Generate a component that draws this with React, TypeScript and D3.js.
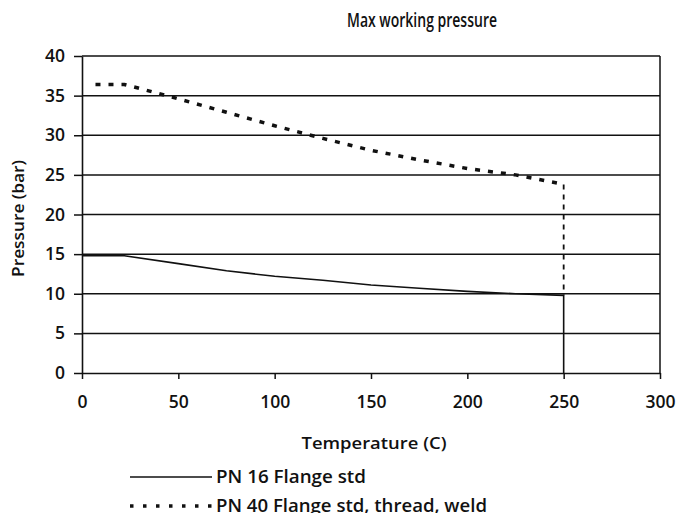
import React, { useEffect, useRef } from 'react';
import * as d3 from 'd3';

// PN 16 series (temperature C, pressure bar)
const pn16Temp = [0, 22, 50, 75, 100, 125, 150, 175, 200, 225, 250, 250];
const pn16Pressure = [14.8, 14.8, 13.8, 12.9, 12.2, 11.7, 11.1, 10.7, 10.3, 10.0, 9.8, 0];

// PN 40 series
const pn40Temp = [7, 22, 30, 50, 75, 100, 125, 150, 175, 200, 225, 250, 250];
const pn40Pressure = [36.4, 36.4, 35.9, 34.6, 32.9, 31.2, 29.6, 28.1, 26.9, 25.8, 25.0, 23.8, 9.8];

const xTicks = [0, 50, 100, 150, 200, 250, 300];
const yTicks = [0, 5, 10, 15, 20, 25, 30, 35, 40];

const seriesNames = ['PN 16 Flange std', 'PN 40 Flange std, thread, weld'];
const legendWidths = [150, 271];

const FONT = "'Open Sans', sans-serif";

const App: React.FC = () => {
  const svgRef = useRef<SVGSVGElement>(null);

  useEffect(() => {
    if (!svgRef.current) return;
    const svg = d3.select(svgRef.current);
    svg.selectAll('*').remove();

    const width = 698;
    const height = 521;
    const margin = { top: 56, right: 38, bottom: 148, left: 82 };
    const iw = width - margin.left - margin.right;
    const ih = height - margin.top - margin.bottom;

    svg.attr('viewBox', `0 0 ${width} ${height}`);

    const g = svg.append('g').attr('transform', `translate(${margin.left},${margin.top})`);

    const x = d3.scaleLinear().domain([0, 300]).range([0, iw]);
    const y = d3.scaleLinear().domain([0, 40]).range([ih, 0]);

    // Grid lines
    g.append('g')
      .selectAll('line')
      .data(yTicks.filter(t => t > 0))
      .enter()
      .append('line')
      .attr('x1', 0)
      .attr('x2', iw)
      .attr('y1', d => y(d))
      .attr('y2', d => y(d))
      .attr('stroke', '#111')
      .attr('stroke-width', 1.5);

    // Right border
    g.append('line')
      .attr('x1', iw).attr('x2', iw)
      .attr('y1', 0).attr('y2', ih)
      .attr('stroke', '#111').attr('stroke-width', 1.5);

    // Axes
    const xAxis = g.append('g')
      .attr('transform', `translate(0,${ih})`)
      .call(d3.axisBottom(x).tickValues(xTicks).tickSize(6).tickPadding(17).tickSizeOuter(0));
    const yAxis = g.append('g')
      .call(d3.axisLeft(y).tickValues(yTicks).tickSize(8).tickPadding(9).tickSizeOuter(0));

    [xAxis, yAxis].forEach(ax => {
      ax.select('.domain').attr('stroke', '#111').attr('stroke-width', 1.6);
      ax.selectAll('.tick line').attr('stroke', '#111').attr('stroke-width', 1.5);
      ax.selectAll('.tick text')
        .attr('fill', '#111')
        .style('font-family', FONT)
        .style('font-size', '17.5px')
        .style('font-weight', '600');
    });

    const line = d3.line<[number, number]>()
      .x(d => x(d[0]))
      .y(d => y(d[1]));

    const pn16 = pn16Temp.map((t, i) => [t, pn16Pressure[i]] as [number, number]);
    const pn40 = pn40Temp.map((t, i) => [t, pn40Pressure[i]] as [number, number]);

    // PN 16 solid
    g.append('path')
      .datum(pn16)
      .attr('fill', 'none')
      .attr('stroke', '#111')
      .attr('stroke-width', 1.6)
      .attr('d', line);

    // PN 40 dotted curve
    g.append('path')
      .datum(pn40.slice(0, -1))
      .attr('fill', 'none')
      .attr('stroke', '#111')
      .attr('stroke-width', 3.5)
      .attr('stroke-dasharray', '5,8')
      .attr('d', line);

    // PN 40 drop at end
    g.append('path')
      .datum(pn40.slice(-2))
      .attr('fill', 'none')
      .attr('stroke', '#111')
      .attr('stroke-width', 1.8)
      .attr('stroke-dasharray', '5,5')
      .attr('d', line);

    const label = (sel: d3.Selection<SVGTextElement, unknown, null, undefined>, size: number, len?: number) => {
      sel.style('font-family', FONT)
        .style('font-size', `${size}px`)
        .style('font-weight', '600')
        .attr('fill', '#111');
      if (len) sel.attr('textLength', len).attr('lengthAdjust', 'spacingAndGlyphs');
      return sel;
    };

    // Title
    label(svg.append('text')
      .attr('x', 422)
      .attr('y', 27)
      .attr('text-anchor', 'middle')
      .text('Max working pressure'), 19, 150);

    // Axis labels
    label(svg.append('text')
      .attr('x', 374)
      .attr('y', 449)
      .attr('text-anchor', 'middle')
      .text('Temperature (C)'), 17, 145);

    label(svg.append('text')
      .attr('transform', `translate(24,${margin.top + y(19.5)}) rotate(-90)`)
      .attr('text-anchor', 'middle')
      .text('Pressure (bar)'), 16, 117);

    // Legend
    const legend = svg.append('g').attr('transform', 'translate(130,477)');
    seriesNames.forEach((name, i) => {
      const row = legend.append('g').attr('transform', `translate(0,${i * 29})`);
      row.append('line')
        .attr('x1', 0).attr('x2', 82)
        .attr('y1', 0).attr('y2', 0)
        .attr('stroke', '#111')
        .attr('stroke-width', i === 0 ? 1.6 : 3.5)
        .attr('stroke-dasharray', i === 0 ? null : '3.5,9.5');
      label(row.append('text')
        .attr('x', 86)
        .attr('y', 6)
        .text(name), 18.5, legendWidths[i]);
    });
  }, []);

  return (
    <div style={{ width: 698, height: 521, margin: -8, background: '#fff' }}>
      <svg ref={svgRef} width={698} height={521} style={{ display: 'block' }}></svg>
    </div>
  );
};

export default App;
